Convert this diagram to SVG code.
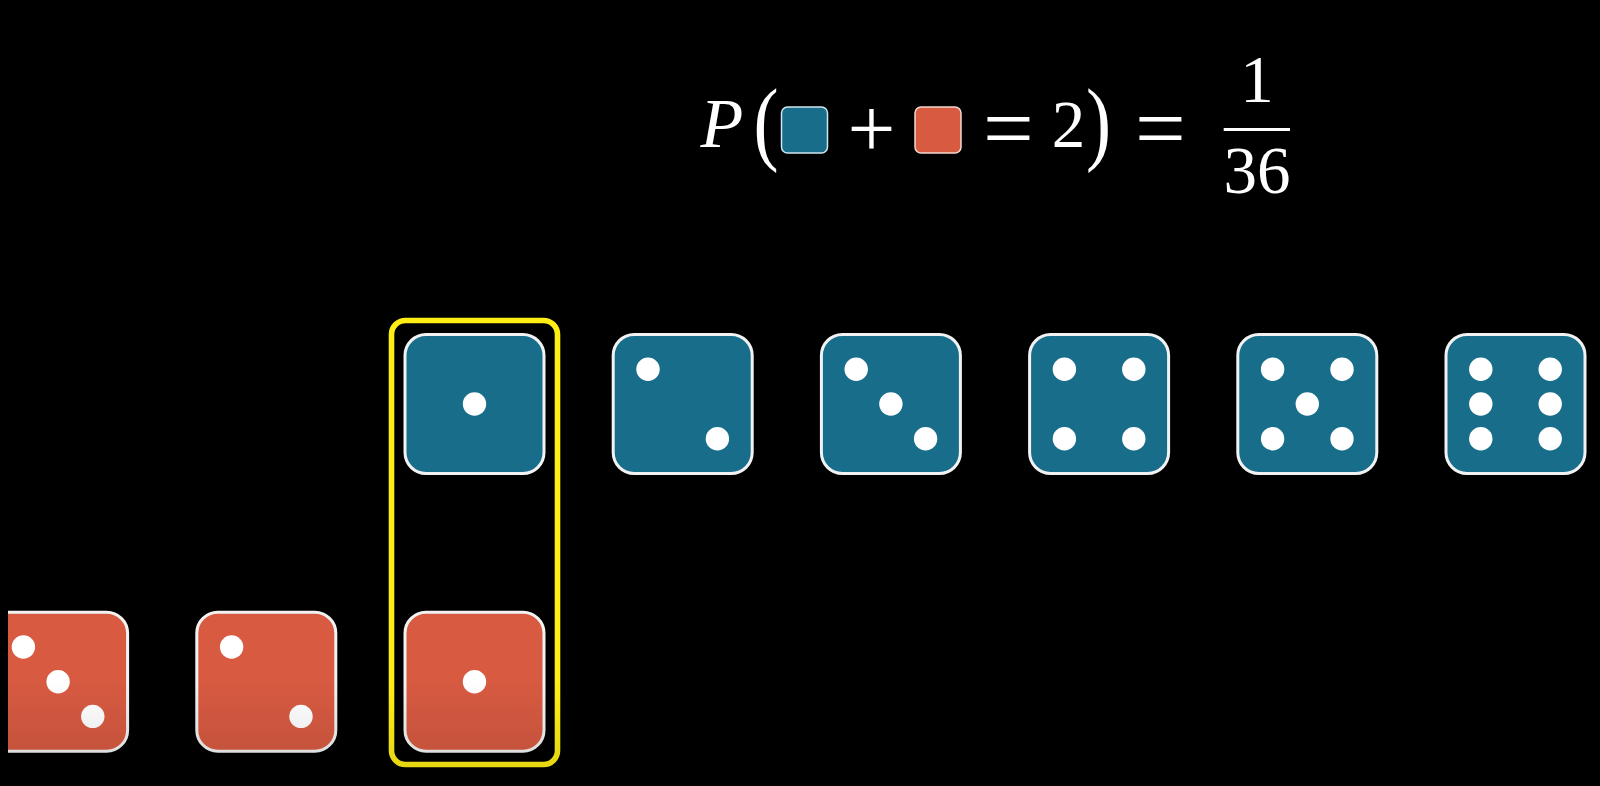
<svg xmlns="http://www.w3.org/2000/svg" width="1600" height="786" viewBox="0 0 1600 786">
<style>
.b{fill:#186d8b}
.r{fill:#d75a41}
.face{stroke:#f2f2f2;stroke-width:3}
.pip{fill:#fff}
.m{font-family:"Liberation Serif","DejaVu Serif",serif;fill:#fff;text-anchor:middle}
</style>
<defs>
<clipPath id="edge"><rect x="8" y="0" width="1592" height="786"/></clipPath>
<linearGradient id="fade" x1="0" y1="0" x2="0" y2="1"><stop offset="0" stop-color="#000" stop-opacity="0"/><stop offset="1" stop-color="#000" stop-opacity="0.12"/></linearGradient>
</defs>
<rect width="1600" height="786" fill="#000"/>
<g id="formula">
<text class="m" x="722" y="146.7" font-size="70" font-style="italic">P</text>
<text class="m" transform="translate(766 153) scale(.8 1)" font-size="94">(</text>
<rect class="b" x="781.5" y="107" width="46" height="46" rx="6" stroke="#cfe6ee" stroke-width="1.5"/>
<text class="m" x="871.5" y="157" font-size="85">+</text>
<rect class="r" x="915" y="107" width="46" height="46" rx="6" stroke="#f5d8cf" stroke-width="1.5"/>
<text class="m" x="1008.5" y="159" font-size="90">=</text>
<text class="m" x="1068.5" y="146.7" font-size="67">2</text>
<text class="m" transform="translate(1098.5 153) scale(.8 1)" font-size="94">)</text>
<text class="m" x="1160.5" y="159" font-size="90">=</text>
<text class="m" x="1257" y="101.7" font-size="67">1</text>
<rect x="1223.7" y="128" width="66.3" height="3" fill="#fff"/>
<text class="m" x="1257" y="193" font-size="67">36</text>
</g>
<g id="blue-1"><rect class="b face" x="405" y="334.5" width="139" height="139" rx="21"/><circle class="pip" cx="474.5" cy="404" r="11.7"/></g>
<g id="blue-2"><rect class="b face" x="613.2" y="334.5" width="139" height="139" rx="21"/><circle class="pip" cx="648" cy="369.3" r="11.7"/><circle class="pip" cx="717.4" cy="438.7" r="11.7"/></g>
<g id="blue-3"><rect class="b face" x="821.4" y="334.5" width="139" height="139" rx="21"/><circle class="pip" cx="856.2" cy="369.3" r="11.7"/><circle class="pip" cx="890.9" cy="404" r="11.7"/><circle class="pip" cx="925.6" cy="438.7" r="11.7"/></g>
<g id="blue-4"><rect class="b face" x="1029.6" y="334.5" width="139" height="139" rx="21"/><circle class="pip" cx="1064.4" cy="369.3" r="11.7"/><circle class="pip" cx="1133.8" cy="369.3" r="11.7"/><circle class="pip" cx="1064.4" cy="438.7" r="11.7"/><circle class="pip" cx="1133.8" cy="438.7" r="11.7"/></g>
<g id="blue-5"><rect class="b face" x="1237.8" y="334.5" width="139" height="139" rx="21"/><circle class="pip" cx="1272.6" cy="369.3" r="11.7"/><circle class="pip" cx="1342" cy="369.3" r="11.7"/><circle class="pip" cx="1307.3" cy="404" r="11.7"/><circle class="pip" cx="1272.6" cy="438.7" r="11.7"/><circle class="pip" cx="1342" cy="438.7" r="11.7"/></g>
<g id="blue-6"><rect class="b face" x="1446" y="334.5" width="139" height="139" rx="21"/><circle class="pip" cx="1480.8" cy="369.3" r="11.7"/><circle class="pip" cx="1550.2" cy="369.3" r="11.7"/><circle class="pip" cx="1480.8" cy="404" r="11.7"/><circle class="pip" cx="1550.2" cy="404" r="11.7"/><circle class="pip" cx="1480.8" cy="438.7" r="11.7"/><circle class="pip" cx="1550.2" cy="438.7" r="11.7"/></g>
<g id="red-3" clip-path="url(#edge)"><rect class="r face" x="-11.4" y="612.2" width="139" height="139" rx="21"/><circle class="pip" cx="23.4" cy="647" r="11.7"/><circle class="pip" cx="58.1" cy="681.7" r="11.7"/><circle class="pip" cx="92.8" cy="716.4" r="11.7"/></g>
<g id="red-2"><rect class="r face" x="196.8" y="612.2" width="139" height="139" rx="21"/><circle class="pip" cx="231.6" cy="647" r="11.7"/><circle class="pip" cx="301" cy="716.4" r="11.7"/></g>
<g id="red-1"><rect class="r face" x="405" y="612.2" width="139" height="139" rx="21"/><circle class="pip" cx="474.5" cy="681.7" r="11.7"/></g>
<g id="highlight"><rect x="391.5" y="320.5" width="166" height="444" rx="14" fill="none" stroke="#ffee14" stroke-width="5.6"/></g>
<rect id="fade-overlay" x="0" y="680" width="1600" height="106" fill="url(#fade)"/>
</svg>
